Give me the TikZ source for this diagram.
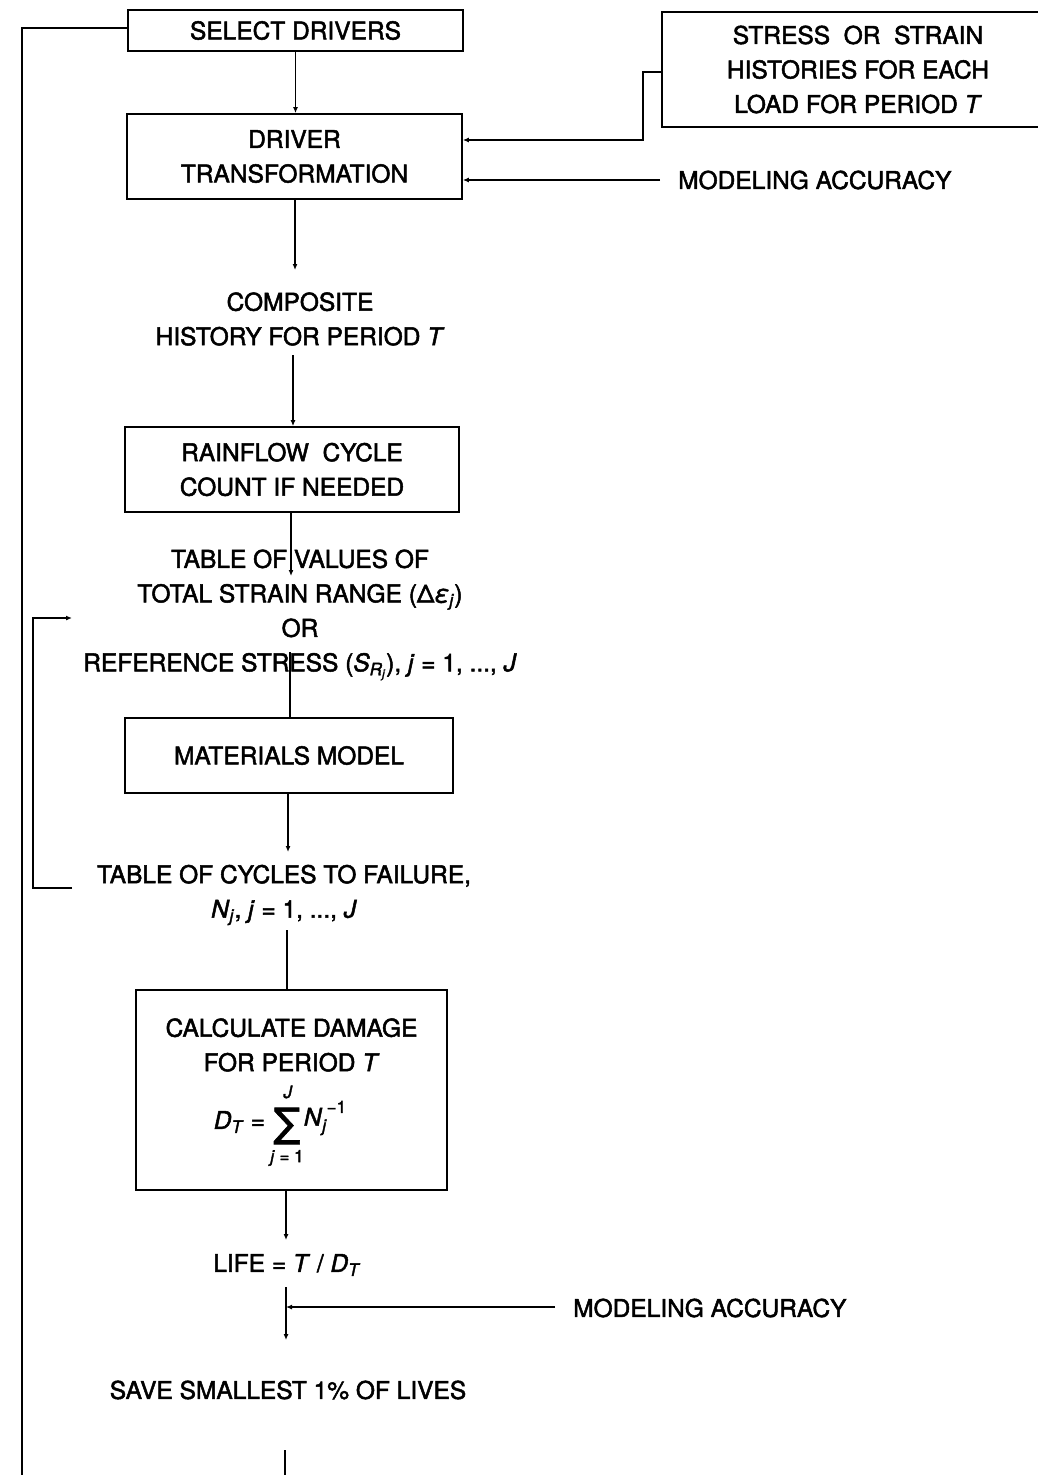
\documentclass[tikz,border=0pt]{standalone}
\usepackage{fontspec}
\setmainfont{TeX Gyre Heros}[UprightFeatures={FakeBold=2}, ItalicFeatures={FakeBold=2}]
\newfontfamily\symfont{DejaVu Sans}[FakeBold=1.5]
\usetikzlibrary{arrows.meta}
\tikzset{
  every node/.style={font=\fontsize{24.5}{34.5}\selectfont, inner sep=0pt},
  stepbox/.style={draw, line width=1.7pt, align=center},
  lbl/.style={align=center},
  smalltxt/.style={font=\fontsize{17}{17}\selectfont},
  conn/.style={line width=1.5pt},
  arr/.style={line width=1.5pt, -{Latex[length=6pt,width=5pt]}}
}
\newcommand{\itl}[1]{\textit{#1}}
\newcommand{\sm}{\fontsize{17}{17}\selectfont}
\begin{document}
\begin{tikzpicture}[x=1pt,y=-1pt]
\useasboundingbox (0,0) rectangle (1038,1475);
\fill[white] (0,0) rectangle (1038,1475);

% boxes
\node[stepbox, minimum width=335pt, minimum height=41pt] (sel) at (295.5,30.5) {SELECT DRIVERS};
\node[stepbox, minimum width=335pt, minimum height=85pt] (drv) at (294.5,156.5) {DRIVER\\TRANSFORMATION};
\node[stepbox, minimum width=392pt, minimum height=115pt] (str) at (858,69.5) {STRESS\ \ OR\ \ STRAIN\\HISTORIES FOR EACH\\LOAD FOR PERIOD \itl{T}};
\node[lbl, anchor=west] (mod1) at (678,180) {MODELING ACCURACY};

\node[lbl] (comp) at (300,319) {COMPOSITE\\HISTORY FOR PERIOD \itl{T}};
\node[stepbox, minimum width=334pt, minimum height=85pt] (rain) at (292,469.5) {RAINFLOW\ \ CYCLE\\COUNT IF NEEDED};
\node[lbl] (tab) at (300,615) {TABLE OF VALUES OF\\TOTAL STRAIN RANGE (Δ\itl{ε}\textsubscript{\itl{j}})\\OR\\REFERENCE STRESS (\itl{S}\textsubscript{\itl{R}\textsubscript{\itl{j}}}), \itl{j} = 1, ..., \itl{J}};
\node[stepbox, minimum width=328pt, minimum height=75pt] (mat) at (289,755.5) {MATERIALS MODEL};
\node[lbl] (cyc) at (284,895) {TABLE OF CYCLES TO FAILURE,\\\itl{N}\textsubscript{\itl{j}}, \itl{j} = 1, ..., \itl{J}};
\node[stepbox, minimum width=311pt, minimum height=200pt] (calc) at (291.5,1090) {};
\node[lbl] (calct) at (291.5,1045) {CALCULATE DAMAGE\\FOR PERIOD \itl{T}};
% formula
\node[font=\symfont\fontsize{40}{40}\selectfont] (sum) at (287,1126) {∑};
\node[anchor=east] (dt) at ([xshift=-8pt]sum.west |- 0,1122) {\itl{D}\textsubscript{\itl{T}} =};
\node[anchor=west] (nj) at ([xshift=3pt]sum.east |- 0,1118) {\itl{N}\raisebox{-0.45ex}{\sm\itl{j}}\raisebox{1.0ex}{\sm −1}};
\node[smalltxt] (supJ) at (288,1092) {\itl{J}};
\node[smalltxt] (subj) at (287,1158) {\itl{j} = 1};
\node[lbl] (life) at (287,1265) {LIFE = \itl{T} / \itl{D}\textsubscript{\itl{T}}};
\node[lbl, anchor=west] (mod2) at (573,1308) {MODELING ACCURACY};
\node[lbl] (save) at (288,1390) {SAVE SMALLEST 1\% OF LIVES};

% coordinates
\coordinate (c1) at (295,270);
\coordinate (c2) at (293,355);
\coordinate (c3) at (291,576);
\coordinate (c4) at (290,652);
\coordinate (c5) at (288,852);
\coordinate (c6) at (287,930);
\coordinate (c7) at (286,1240);
\coordinate (c8) at (286,1287);
\coordinate (c9) at (286,1340);
\coordinate (c10) at (285,1450);
\coordinate (c11) at (285,1475);
\coordinate (l1) at (22,1475);
\coordinate (in1) at (72,618);
\coordinate (in2) at (72,888);

% main flow
\draw[arr] (sel.south) -- (sel.south |- drv.north);
\draw[arr] (c1 |- drv.south) -- (c1);
\draw[arr] (c2) -- (c2 |- rain.north);
\draw[arr] (c3 |- rain.south) -- (c3);
\draw[conn] (c4) -- (c4 |- mat.north);
\draw[arr] (c5 |- mat.south) -- (c5);
\draw[conn] (c6) -- (c6 |- calc.north);
\draw[arr] (c7 |- calc.south) -- (c7);
\draw[arr] (c8) -- (c9);
\draw[conn] (c10) -- (c11);

% side inputs
\draw[arr] (str.west |- 0,72) -- (643,72) -- (643,140) -- (drv.east |- 0,140);
\draw[arr] (660,180) -- (drv.east |- 0,180);
\draw[arr] (555,1307) -- (c8 |- 0,1307);

% loops
\draw[conn] (sel.west |- 0,28) -- (22,28) -- (l1);
\draw[arr] (in2) -- (33,888) -- (33,618) -- (in1);
\end{tikzpicture}
\end{document}
